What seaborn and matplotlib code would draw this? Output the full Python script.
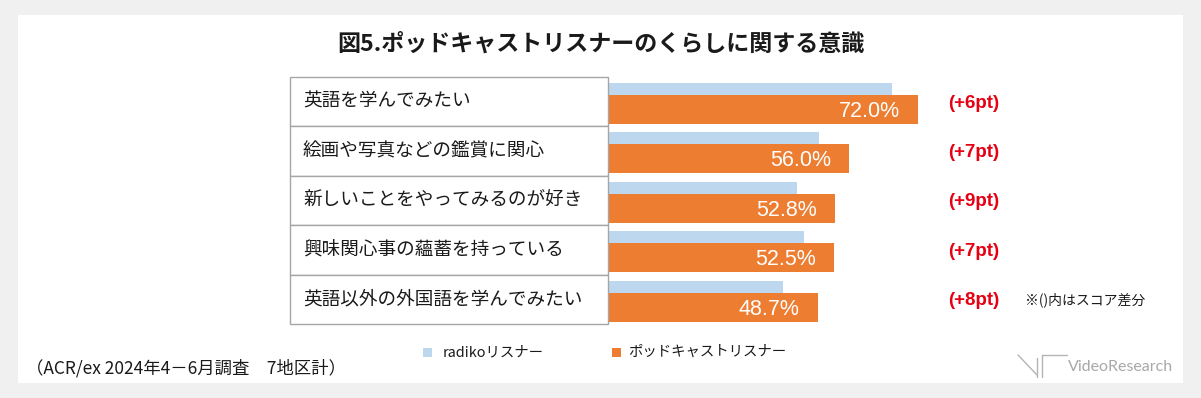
import numpy as np
import pandas as pd
import matplotlib
matplotlib.use("Agg")
import matplotlib.pyplot as plt
import seaborn as sns
from matplotlib.patches import Rectangle
from matplotlib.lines import Line2D

# data
items = [
    "英語を学んでみたい",
    "絵画や写真などの鑑賞に関心",
    "新しいことをやってみるのが好き",
    "興味関心事の蘊蓄を持っている",
    "英語以外の外国語を学んでみたい",
]
radiko = [66.0, 49.0, 43.8, 45.5, 40.7]
podcast = [72.0, 56.0, 52.8, 52.5, 48.7]
diff_labels = ["(+6pt)", "(+7pt)", "(+9pt)", "(+7pt)", "(+8pt)"]
series_names = ["radikoリスナー", "ポッドキャストリスナー"]

title = "図5.ポッドキャストリスナーのくらしに関する意識"
note = "※()内はスコア差分"
source = "（ACR/ex 2024年4－6月調査　7地区計）"

LIGHT = "#bdd7ee"
ORANGE = "#ed7d31"
RED = "#e60012"
GRID = "#a6a6a6"

sns.set_theme(style="white")
plt.rcParams["font.family"] = ["Noto Sans CJK JP", "DejaVu Sans"]
LATIN = ["Liberation Sans", "Noto Sans CJK JP"]

W, H = 1201, 398
fig = plt.figure(figsize=(W / 100, H / 100), dpi=100)
fig.patch.set_facecolor("#f0f0f0")


def fx(x):
    return x / W


def fy(y):
    return 1 - y / H


# white panel
fig.add_artist(Rectangle((fx(18), fy(383)), fx(1183 - 18), (383 - 15) / H,
                         transform=fig.transFigure, facecolor="white",
                         edgecolor="none", zorder=0))

px_per_pct = 4.306
ax_left, ax_right = 608, 608 + 100 * px_per_pct
ax = fig.add_axes([fx(ax_left), fy(324), fx(ax_right - ax_left), (324 - 77) / H])
ax.set_facecolor("none")

df = pd.DataFrame({
    "item": items * 2,
    "series": [series_names[0]] * len(items) + [series_names[1]] * len(items),
    "value": radiko + podcast,
})
sns.barplot(data=df, y="item", x="value", hue="series", orient="h",
            palette=[LIGHT, ORANGE], saturation=1, dodge=True,
            legend=False, ax=ax, zorder=2)

# reshape bars: thin light bar on top, thick orange bar below
row_px = 49.4
shape = {0: (6 / row_px, 12 / row_px), 1: (18 / row_px, 29 / row_px)}
for k, cont in enumerate(ax.containers):
    off, hgt = shape[k]
    for i, p in enumerate(cont.patches):
        p.set_y(i - 0.5 + off)
        p.set_height(hgt)
        p.set_edgecolor("none")

ax.set_xlim(0, 100)
ax.set_ylim(len(items) - 0.5, -0.5)
ax.set_xlabel("")
ax.set_ylabel("")
ax.set_xticks([])
ax.set_yticks([])
for s in ax.spines.values():
    s.set_visible(False)

# label boxes on the left
ytr = ax.get_yaxis_transform()
box_x = (290 - ax_left) / (ax_right - ax_left)
for i, name in enumerate(items):
    ax.add_patch(Rectangle((box_x, i - 0.5), -box_x, 1, transform=ytr,
                           facecolor="white", edgecolor=GRID, lw=1.0,
                           clip_on=False, zorder=3))
    ax.text((303 - ax_left) / (ax_right - ax_left), i, name, transform=ytr,
            ha="left", va="center", fontsize=13.4, color="#1a1a1a", zorder=4)

# value labels and differences
for i, (v, d) in enumerate(zip(podcast, diff_labels)):
    ax.text(v - 4.2, i + 0.2, f"{v:.1f}%", ha="right", va="center",
            fontsize=15.5, color="white", family=LATIN, zorder=5)
    ax.text(85.0, i + 0.03, d, ha="center", va="center", fontsize=13.5,
            color=RED, fontweight="bold", family=LATIN, zorder=5)

# texts
fig.text(fx(601), fy(44), title, ha="center", va="center", fontsize=16.6,
         fontweight="bold", color="#1a1a1a")
fig.text(fx(1025), fy(300), note, ha="left", va="center", fontsize=10,
         color="#1a1a1a")
fig.text(fx(26), fy(368), source, ha="left", va="center", fontsize=12.5,
         color="#1a1a1a")

# legend
for (sx, tx), name, col in zip([(423, 443), (612, 628)], series_names, [LIGHT, ORANGE]):
    fig.add_artist(Rectangle((fx(sx), fy(357)), fx(9), 9 / H,
                             transform=fig.transFigure, facecolor=col,
                             edgecolor="none"))
    fig.text(fx(tx), fy(352), name, ha="left", va="center", fontsize=10.4,
             color="#1a1a1a")

# logo
lc = "#b4b4b4"
for xs, ys in [([1018, 1037], [355, 375]), ([1037, 1037], [358, 377]),
               ([1042, 1042], [355, 377]), ([1042, 1067], [355, 355])]:
    fig.add_artist(Line2D([fx(x) for x in xs], [fy(y) for y in ys],
                          transform=fig.transFigure, color=lc, lw=1))
fig.text(fx(1068), fy(367), "VideoResearch", ha="left", va="center",
         fontsize=11.5, color="#a8a8a8", family=["Lato", "DejaVu Sans"])

fig.savefig("out.png", dpi=100, facecolor=fig.get_facecolor())
